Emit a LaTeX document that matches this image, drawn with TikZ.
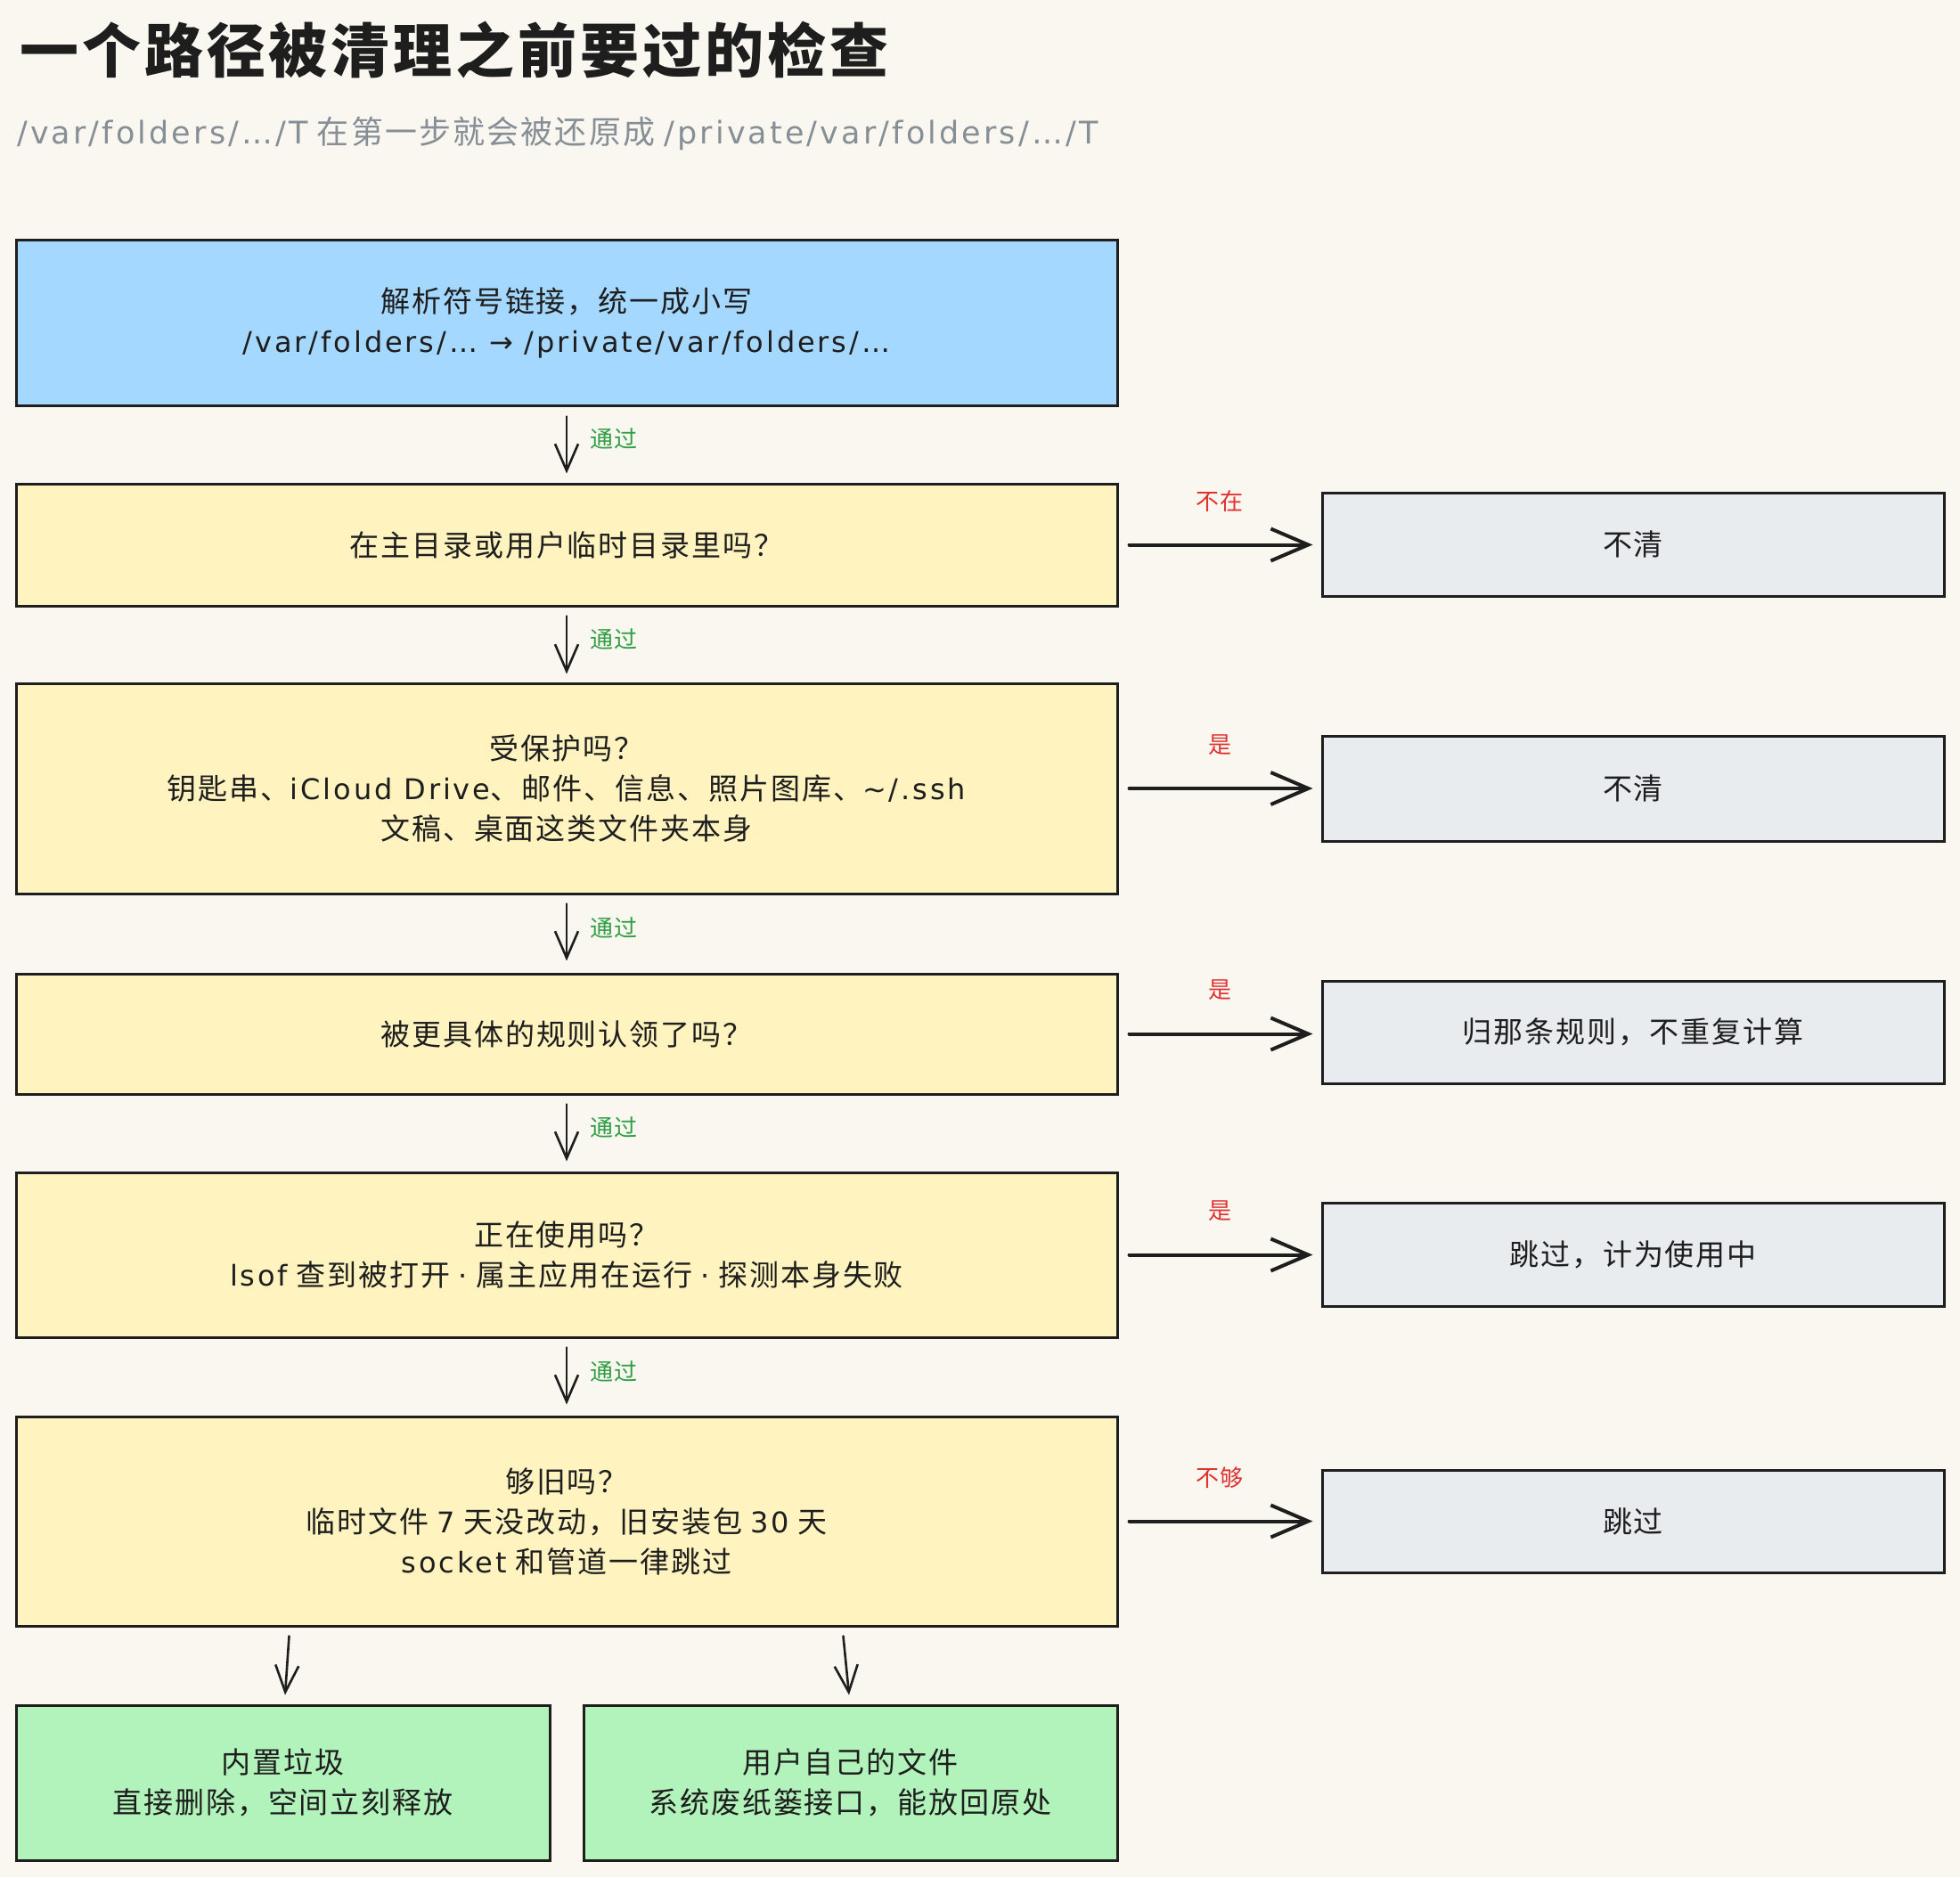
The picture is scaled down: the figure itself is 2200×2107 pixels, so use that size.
\documentclass[tikz,border=0pt]{standalone}
\usepackage{fontspec}
\setmainfont{Noto Sans CJK SC}[LetterSpace=6]
\newfontfamily\lat{DejaVu Sans}[Scale=0.97,LetterSpace=9]
\usetikzlibrary{arrows.meta}
\definecolor{bg}{HTML}{F9F7F0}
\definecolor{ink}{HTML}{1E1E1E}
\definecolor{subgray}{HTML}{868E96}
\definecolor{fblue}{HTML}{A5D8FF}
\definecolor{fyellow}{HTML}{FFF3BF}
\definecolor{fgray}{HTML}{E9ECEF}
\definecolor{fgreen}{HTML}{B2F2BB}
\definecolor{tgreen}{HTML}{2F9E44}
\definecolor{tred}{HTML}{E03131}
\newcommand\bodyfnt{\fontsize{33}{45}\selectfont}
\newcommand\labfnt{\fontsize{26}{30}\selectfont}
\tikzset{
  box/.style={draw=ink, line width=3pt, rectangle, align=center, inner sep=0pt,
    text=ink, font=\bodyfnt},
  mainbox/.style={box, minimum width=1236pt},
  sidebox/.style={box, fill=fgray, minimum width=698pt},
  greenbox/.style={box, fill=fgreen, minimum width=599pt, minimum height=174pt},
  varrow/.style={draw=ink, line width=2.6pt, line cap=round, line join=round,
    -{Straight Barb[length=30pt,width=26pt,line width=2.6pt]}},
  harrow/.style={draw=ink, line width=4pt, line cap=round, line join=round,
    -{Straight Barb[length=42pt,width=36pt,line width=4pt]}},
  glabel/.style={text=tgreen, font=\labfnt, inner sep=0pt},
  rlabel/.style={text=tred, font=\labfnt, inner sep=0pt},
}
\begin{document}
\begin{tikzpicture}[x=1pt,y=-1pt]
\useasboundingbox (0,0) rectangle (2200,2107);
\fill[bg] (0,0) rectangle (2200,2107);

\node[anchor=west, text=ink, inner sep=0pt, font=\fontsize{66}{80}\selectfont\bfseries] (title) at (22,56) {一个路径被清理之前要过的检查};
\node[anchor=west, text=subgray, inner sep=0pt, font=\fontsize{36}{44}\selectfont] (sub) at (19,150) {{\lat /var/folders/…/T} 在第一步就会被还原成 {\lat /private/var/folders/…/T}};

\node[mainbox, fill=fblue, minimum height=186pt] (b1) at (636,362) {解析符号链接，统一成小写\\{\lat /var/folders/… → /private/var/folders/…}};
\node[mainbox, fill=fyellow, minimum height=137pt] (b2) at (636,611.5) {在主目录或用户临时目录里吗？};
\node[mainbox, fill=fyellow, minimum height=236pt] (b3) at (636,885) {受保护吗？\\钥匙串、{\lat iCloud Drive}、邮件、信息、照片图库、{\lat \char126/.ssh}\\文稿、桌面这类文件夹本身};
\node[mainbox, fill=fyellow, minimum height=135pt] (b4) at (636,1160.5) {被更具体的规则认领了吗？};
\node[mainbox, fill=fyellow, minimum height=185pt] (b5) at (636,1408.5) {正在使用吗？\\{\lat lsof} 查到被打开 {\lat ·} 属主应用在运行 {\lat ·} 探测本身失败};
\node[mainbox, fill=fyellow, minimum height=235pt] (b6) at (636,1707.5) {够旧吗？\\临时文件 {\lat 7} 天没改动，旧安装包 {\lat 30} 天\\{\lat socket} 和管道一律跳过};

\node[sidebox, minimum height=116pt] (r1) at (1833,611) {不清};
\node[sidebox, minimum height=118pt] (r2) at (1833,885) {不清};
\node[sidebox, minimum height=115pt] (r3) at (1833,1158.5) {归那条规则，不重复计算};
\node[sidebox, minimum height=116pt] (r4) at (1833,1408) {跳过，计为使用中};
\node[sidebox, minimum height=115pt] (r5) at (1833,1707.5) {跳过};

\node[greenbox] (g1) at (317.5,2001) {内置垃圾\\直接删除，空间立刻释放};
\node[greenbox] (g2) at (954.5,2001) {用户自己的文件\\系统废纸篓接口，能放回原处};

\draw[varrow, shorten <=11pt, shorten >=10pt] (b1.south) -- (b2.north) node[glabel, midway, xshift=53pt, yshift=6pt] {通过};
\draw[varrow, shorten <=10pt, shorten >=9pt] (b2.south) -- (b3.north) node[glabel, midway, xshift=53pt, yshift=6pt] {通过};
\draw[varrow, shorten <=10pt, shorten >=13pt] (b3.south) -- (b4.north) node[glabel, midway, xshift=53pt, yshift=6pt] {通过};
\draw[varrow, shorten <=10pt, shorten >=11pt] (b4.south) -- (b5.north) node[glabel, midway, xshift=53pt, yshift=6pt] {通过};
\draw[varrow, shorten <=10pt, shorten >=12pt] (b5.south) -- (b6.north) node[glabel, midway, xshift=53pt, yshift=6pt] {通过};

\draw[harrow, shorten <=12pt, shorten >=9pt] (b2.east) -- (b2.east -| r1.west) node[rlabel, midway, yshift=49pt] {不在};
\draw[harrow, shorten <=12pt, shorten >=9pt] (b3.east) -- (b3.east -| r2.west) node[rlabel, midway, yshift=49pt] {是};
\draw[harrow, shorten <=12pt, shorten >=9pt] (b4.east) -- (b4.east -| r3.west) node[rlabel, midway, yshift=49pt] {是};
\draw[harrow, shorten <=12pt, shorten >=9pt] (b5.east) -- (b5.east -| r4.west) node[rlabel, midway, yshift=49pt] {是};
\draw[harrow, shorten <=12pt, shorten >=9pt] (b6.east) -- (b6.east -| r5.west) node[rlabel, midway, yshift=49pt] {不够};

\draw[varrow] ([xshift=308pt,yshift=-10pt]b6.south west) -- ([xshift=2.5pt,yshift=10pt]g1.north);
\draw[varrow] ([xshift=930pt,yshift=-10pt]b6.south west) -- ([xshift=-1.5pt,yshift=10pt]g2.north);
\end{tikzpicture}
\end{document}
